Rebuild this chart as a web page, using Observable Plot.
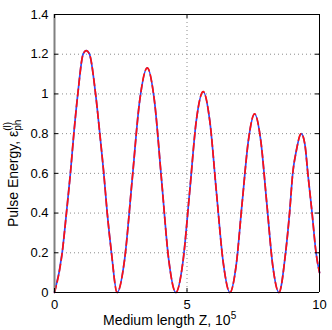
<!DOCTYPE html>
<html><head><meta charset="utf-8">
<script src="https://cdn.jsdelivr.net/npm/d3@7"></script>
<script src="https://cdn.jsdelivr.net/npm/@observablehq/plot@0.6"></script>
<style>
body{margin:0;background:#fff}
svg{font-family:"Liberation Sans",Arial,Helvetica,sans-serif}
</style>
</head><body><div id="chart"></div>
<script>
// Medium length Z (units of 1e5)
const zValues = [
  0, 0.29, 0.45, 0.60, 0.73, 0.88, 1.08, 1.20, 1.32, 1.55, 1.71, 1.86, 1.99, 2.15, 2.36,
  2.645, 2.93, 3.215, 3.50, 3.77, 4.04, 4.31, 4.58,
  4.84, 5.10, 5.35, 5.61, 5.86, 6.11, 6.37, 6.62,
  6.85, 7.08, 7.32, 7.55, 7.78, 8.01, 8.24, 8.47,
  8.72, 8.87, 8.99, 9.12, 9.31, 9.45, 9.56, 9.72, 9.87, 10
];
// Pulse energy, solid (blue) curve
const energySolid = [
  0, 0.2, 0.4, 0.6, 0.8, 1.0, 1.2, 1.218, 1.2, 1.0, 0.8, 0.6, 0.4, 0.2, 0,
  0.166, 0.566, 0.966, 1.131, 0.966, 0.566, 0.166, 0,
  0.148, 0.506, 0.864, 1.012, 0.864, 0.506, 0.148, 0,
  0.131, 0.45, 0.769, 0.90, 0.769, 0.45, 0.131, 0,
  0.2, 0.4, 0.6, 0.71, 0.80, 0.745, 0.6, 0.4, 0.2, 0.1
];
// Pulse energy, dashed (red) curve
const energyDashed = [
  0, 0.2, 0.4, 0.6, 0.8, 1.0, 1.2, 1.218, 1.2, 1.0, 0.8, 0.6, 0.4, 0.2, 0,
  0.166, 0.566, 0.966, 1.131, 0.966, 0.566, 0.166, 0,
  0.148, 0.506, 0.864, 1.012, 0.864, 0.506, 0.148, 0,
  0.131, 0.45, 0.769, 0.90, 0.769, 0.45, 0.131, 0,
  0.2, 0.4, 0.6, 0.71, 0.80, 0.745, 0.6, 0.4, 0.2, 0.1
];
const xTicks = [0, 5, 10];
const xTickLabels = ["0", "5", "10"];
const yTicks = [0, 0.2, 0.4, 0.6, 0.8, 1.0, 1.2, 1.4];
const yTickLabels = ["0", "0.2", "0.4", "0.6", "0.8", "1", "1.2", "1.4"];

const solidData = zValues.map((z, i) => ({z, e: energySolid[i]}));
const dashedData = zValues.map((z, i) => ({z, e: energyDashed[i]}));

const W = 332, H = 330;
const mL = 54, mR = 13, mT = 14, mB = 38;
const innerW = W - mL - mR, innerH = H - mT - mB;
const tickLen = 4;

const svg = Plot.plot({
  width: W, height: H,
  marginLeft: mL, marginRight: mR, marginTop: mT, marginBottom: mB,
  style: {fontFamily: '"Liberation Sans",Arial,Helvetica,sans-serif', fontSize: "13px", color: "black", background: "white"},
  x: {domain: [0, 10]},
  y: {domain: [0, 1.4]},
  marks: [
    Plot.ruleY(yTicks.slice(1, -1), {stroke: "#8c8c8c", strokeWidth: 1, strokeDasharray: "1,3"}),
    Plot.ruleX(xTicks.slice(1, -1), {stroke: "#8c8c8c", strokeWidth: 1, strokeDasharray: "1,3"}),
    Plot.line(solidData, {x: "z", y: "e", stroke: "#2a4cff", strokeWidth: 1.7, curve: "monotone-x"}),
    Plot.line(dashedData, {x: "z", y: "e", stroke: "#ff1010", strokeWidth: 1.7, strokeDasharray: "7,4", curve: "monotone-x"}),
    Plot.ruleY([0], {stroke: "black", strokeWidth: 1}),
    Plot.ruleY([1.4], {stroke: "black", strokeWidth: 1}),
    Plot.ruleX([10], {stroke: "black", strokeWidth: 1}),
    Plot.ruleX([0], {stroke: "#808080", strokeWidth: 2}),
    Plot.tickY(yTicks, {y: d => d, stroke: "black", insetRight: innerW - tickLen}),
    Plot.tickY(yTicks, {y: d => d, stroke: "black", insetLeft: innerW - tickLen}),
    Plot.tickX(xTicks, {x: d => d, stroke: "black", insetTop: innerH - tickLen}),
    Plot.tickX(xTicks, {x: d => d, stroke: "black", insetBottom: innerH - tickLen}),
    Plot.axisX(xTicks, {tickSize: 0, tickPadding: 7, fontSize: 13, label: null,
      tickFormat: d => xTickLabels[xTicks.indexOf(d)]}),
    Plot.axisY(yTicks, {tickSize: 0, tickPadding: 6, fontSize: 13, label: null,
      tickFormat: d => yTickLabels[yTicks.indexOf(d)]})
  ]
});

const s = d3.select(svg);
// x label
const xl = s.append("text")
  .attr("x", 103).attr("y", 325)
  .attr("text-anchor", "start")
  .attr("font-size", 14).attr("fill", "black");
xl.append("tspan").text("Medium length Z, 10");
xl.append("tspan").attr("font-size", 10).attr("dy", -6).text("5");

// y label
const yl = s.append("text")
  .attr("transform", "translate(17.5,227) rotate(-90)")
  .attr("text-anchor", "start")
  .attr("font-size", 14).attr("fill", "black");
yl.append("tspan").text("Pulse Energy, \u03b5");
const sub = yl.append("tspan").attr("font-size", 10).attr("dy", 3).text("ph");
document.getElementById("chart").appendChild(svg);
const subW = sub.node().getComputedTextLength();
yl.append("tspan").attr("font-size", 10).attr("dx", -subW).attr("dy", -10).text("(l)");
</script>
</body></html>
